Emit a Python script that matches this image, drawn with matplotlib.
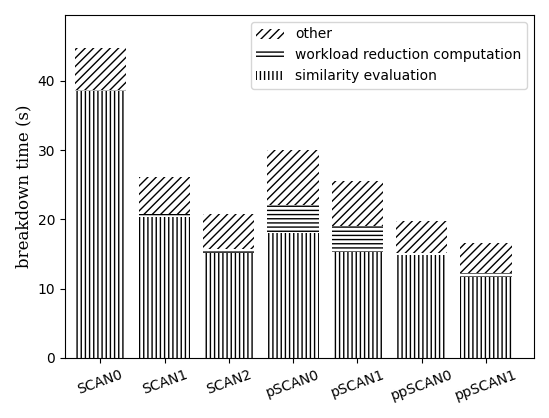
import matplotlib
matplotlib.use("Agg")
import matplotlib.pyplot as plt
import numpy as np

plt.rcParams['hatch.linewidth'] = 1.0

algorithms = ['SCAN0', 'SCAN1', 'SCAN2', 'pSCAN0', 'pSCAN1', 'ppSCAN0', 'ppSCAN1']
similarity = [38.5, 20.3, 15.1, 18.0, 15.3, 14.8, 11.7]
workload = [0.2, 0.5, 0.6, 4.0, 3.8, 0.4, 0.6]
other = [6.0, 5.3, 5.1, 8.0, 6.4, 4.6, 4.3]

x = np.arange(len(algorithms))
fig, ax = plt.subplots(figsize=(5.49, 4.18), dpi=100)
w = 0.8
sim = np.array(similarity)
wr = np.array(workload)
ax.bar(x, sim, w, color='white', edgecolor='black', linewidth=0, hatch='||||', label='similarity evaluation')
ax.bar(x, wr, w, bottom=sim, color='white', edgecolor='black', linewidth=0, hatch='----', label='workload reduction computation')
ax.bar(x, other, w, bottom=sim + wr, color='white', edgecolor='black', linewidth=0, hatch='////', label='other')

ax.set_xticks(x)
ax.set_xticklabels(algorithms, rotation=20)
ax.set_xlim(-0.55, 6.75)
ax.set_ylim(0, 49.5)
ax.set_ylabel('breakdown time (s)', family='DejaVu Serif', fontsize=12)
h, l = ax.get_legend_handles_labels()
ax.legend(h[::-1], l[::-1], loc='upper right')
plt.tight_layout()
fig.savefig('out.png', dpi=100)
